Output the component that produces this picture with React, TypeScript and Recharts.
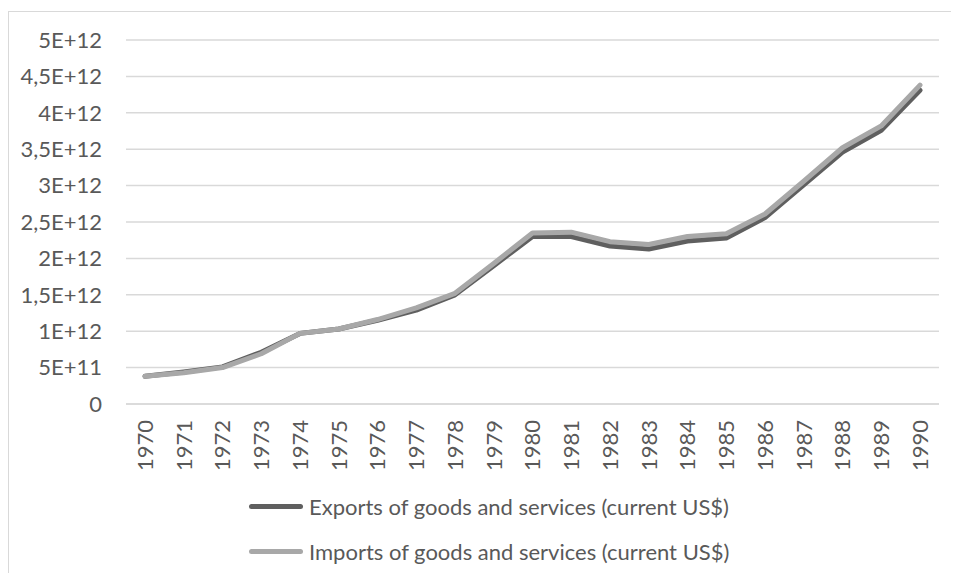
import React from 'react';
import { LineChart, CartesianGrid, XAxis, YAxis, Legend, Line } from 'recharts';

const years = [
  '1970', '1971', '1972', '1973', '1974', '1975', '1976', '1977', '1978', '1979', '1980',
  '1981', '1982', '1983', '1984', '1985', '1986', '1987', '1988', '1989', '1990',
];

// trillions of current US$
const exportsT = [
  0.38, 0.44, 0.51, 0.71, 0.97, 1.03, 1.15, 1.29, 1.5, 1.9, 2.3,
  2.3, 2.17, 2.13, 2.24, 2.28, 2.56, 3.01, 3.46, 3.76, 4.31,
];
const importsT = [
  0.38, 0.43, 0.5, 0.69, 0.97, 1.03, 1.16, 1.32, 1.52, 1.93, 2.35,
  2.36, 2.23, 2.19, 2.3, 2.34, 2.61, 3.06, 3.52, 3.82, 4.38,
];

const yTicks = [0, 5e11, 1e12, 1.5e12, 2e12, 2.5e12, 3e12, 3.5e12, 4e12, 4.5e12, 5e12];
const yTickLabels = ['0', '5E+11', '1E+12', '1,5E+12', '2E+12', '2,5E+12', '3E+12', '3,5E+12', '4E+12', '4,5E+12', '5E+12'];

const seriesNames = ['Exports of goods and services (current US$)', 'Imports of goods and services (current US$)'];
const seriesColors = ['#5f5f5f', '#a8a8a8'];

const data = years.map((year, i) => ({
  year,
  exports: exportsT[i] * 1e12,
  imports: importsT[i] * 1e12,
}));

const FONT = 'Lato, "Open Sans", sans-serif';
const TEXT = '#595959';
const FS = 22;

const YearTick = (props: any) => {
  const { x, y, payload } = props;
  return (
    <text
      x={x}
      y={y}
      transform={`rotate(-90, ${x}, ${y})`}
      textAnchor="end"
      dy="0.36em"
      fill={TEXT}
      fontSize={FS}
      fontFamily={FONT}
    >
      {payload.value}
    </text>
  );
};

const LegendBox = () => (
  <div style={{ fontFamily: FONT, fontSize: FS, color: TEXT }}>
    {seriesNames.map((name, i) => (
      <div key={name} style={{ display: 'flex', alignItems: 'center', height: 45 }}>
        <span
          style={{
            display: 'inline-block',
            width: 54,
            height: 5,
            borderRadius: 3,
            background: seriesColors[i],
            marginRight: 6,
          }}
        />
        <span>{name}</span>
      </div>
    ))}
  </div>
);

export default function App() {
  return (
    <div style={{ position: 'relative', margin: -8, width: 959, height: 581, background: '#fff', overflow: 'hidden' }}>
      <div
        style={{
          position: 'absolute',
          left: 8,
          top: 11,
          width: 980,
          height: 600,
          border: '1px solid #d9d9d9',
          boxSizing: 'border-box',
        }}
      />
      <div style={{ position: 'absolute', left: 0, top: 0 }}>
        <LineChart width={959} height={581} data={data} margin={{ top: 40, right: 20, left: 0, bottom: 17 }}>
          <CartesianGrid vertical={false} stroke="#d9d9d9" strokeWidth={1.5} />
          <XAxis
            dataKey="year"
            padding={{ left: 19, right: 19 }}
            axisLine={{ stroke: '#d9d9d9', strokeWidth: 1.5 }}
            tickLine={false}
            tickSize={0}
            tickMargin={16}
            height={70}
            interval={0}
            tick={<YearTick />}
          />
          <YAxis
            domain={[0, 5e12]}
            ticks={yTicks}
            tickFormatter={(v: number) => yTickLabels[yTicks.indexOf(v)]}
            width={126}
            axisLine={false}
            tickLine={false}
            tickSize={0}
            tickMargin={24}
            tick={{ fill: TEXT, fontSize: FS, fontFamily: FONT }}
          />
          <Legend
            content={<LegendBox />}
            wrapperStyle={{ position: 'absolute', left: 249, top: 484, width: 640, height: 90 }}
          />
          <Line
            dataKey="exports"
            name={seriesNames[0]}
            stroke={seriesColors[0]}
            strokeWidth={5}
            strokeLinecap="round"
            strokeLinejoin="round"
            dot={false}
            isAnimationActive={false}
          />
          <Line
            dataKey="imports"
            name={seriesNames[1]}
            stroke={seriesColors[1]}
            strokeWidth={5}
            strokeLinecap="round"
            strokeLinejoin="round"
            dot={false}
            isAnimationActive={false}
          />
        </LineChart>
      </div>
    </div>
  );
}
